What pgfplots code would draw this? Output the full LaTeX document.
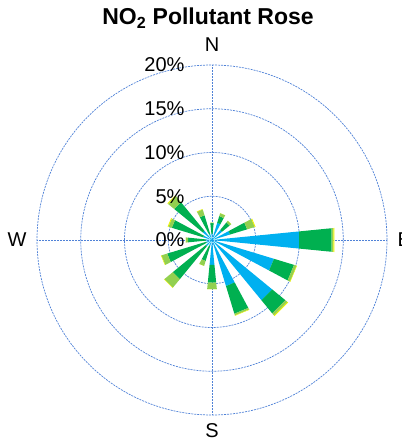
\documentclass[border=0pt]{standalone}
\usepackage{pgfplots}
\pgfplotsset{compat=1.18}
\usepackage{pgfplotstable}
\usepgfplotslibrary{polar}
\usepackage{fontspec}
\setmainfont{Liberation Sans}

\definecolor{roseblue}{RGB}{0,176,240}
\definecolor{rosegreen}{RGB}{0,176,80}
\definecolor{roselight}{RGB}{146,208,80}
\definecolor{roseyellow}{RGB}{235,240,0}
\definecolor{gridblue}{RGB}{80,130,215}

% cumulative frequency (%) per compass bearing, four concentration bins
\pgfplotstableread{
dir   c1    c2    c3    c4
0     0.70  1.95  2.00  2.00
22.5  2.05  2.85  3.20  3.20
45    1.50  2.60  2.85  2.85
67.5  2.15  4.20  5.10  5.20
90    10.00 13.75 13.95 14.05
112.5 7.40  9.80  10.10 10.15
135   8.90  10.85 11.15 11.25
157.5 5.50  8.80  9.00  9.05
180   2.85  4.90  5.65  5.65
202.5 0.70  2.50  3.10  3.10
225   0.90  5.80  7.05  7.10
247.5 0.70  5.35  6.05  6.10
270   0.70  2.75  3.00  3.00
292.5 1.05  4.80  5.20  5.30
315   1.35  5.60  6.50  6.60
337.5 0.70  2.95  3.65  3.70
}\rosedata

% one wedge piece: math angle, inner radius, outer radius, colour
\newcommand\roseseg[4]{%
  \pgfmathsetmacro\angA{#1-5.625}%
  \pgfmathsetmacro\angB{#1+5.625}%
  \addplot[draw=none,fill=#4] coordinates {(\angA,#2) (\angB,#2) (\angB,#3) (\angA,#3)} -- cycle;
}

\begin{document}
\begin{tikzpicture}
\begin{polaraxis}[
  scale only axis, width=350bp, height=350bp,
  ymin=0, ymax=20,
  xtick={0,90,180,270}, ytick={5,10,15,20},
  xticklabels={}, yticklabels={},
  major tick length=0pt,
  xmajorgrids, ymajorgrids,
  major grid style={draw=gridblue, line width=0.7bp, dash pattern=on 2bp off 1bp},
  axis line style={draw=none},
  clip=false,
]
\pgfplotsforeachungrouped \i in {0,...,15}{%
  \pgfplotstablegetelem{\i}{dir}\of\rosedata
  \pgfmathsetmacro\ang{90-\pgfplotsretval}%
  \pgfplotstablegetelem{\i}{c1}\of\rosedata \let\rA\pgfplotsretval
  \pgfplotstablegetelem{\i}{c2}\of\rosedata \let\rB\pgfplotsretval
  \pgfplotstablegetelem{\i}{c3}\of\rosedata \let\rC\pgfplotsretval
  \pgfplotstablegetelem{\i}{c4}\of\rosedata \let\rD\pgfplotsretval
  \roseseg{\ang}{0}{\rA}{roseblue}
  \roseseg{\ang}{\rA}{\rB}{rosegreen}
  \roseseg{\ang}{\rB}{\rC}{roselight}
  \roseseg{\ang}{\rC}{\rD}{roseyellow}
}
\coordinate (c) at (axis cs:0,0);
\begin{scope}[every node/.style={font=\fontsize{20bp}{24bp}\selectfont}]
\node[anchor=east, xshift=-24bp] at (axis cs:90,0) {0\%};
\node[anchor=east, xshift=-24bp] at (axis cs:90,5) {5\%};
\node[anchor=east, xshift=-24bp] at (axis cs:90,10) {10\%};
\node[anchor=east, xshift=-24bp] at (axis cs:90,15) {15\%};
\node[anchor=east, xshift=-24bp] at (axis cs:90,20) {20\%};
\node[yshift=20bp] at (axis cs:90,20) {N};
\node[anchor=west, xshift=7bp] at (axis cs:0,20) {E};
\node[yshift=-16bp] at (axis cs:270,20) {S};
\node[anchor=east, xshift=-7bp] at (axis cs:180,20) {W};
\end{scope}
\node[font=\fontsize{23bp}{27bp}\selectfont\bfseries, xshift=-4bp, yshift=47bp]
  at (axis cs:90,20) {NO\textsubscript{2} Pollutant Rose};
\end{polaraxis}
\pgfresetboundingbox
\path[use as bounding box] ([shift={(-212bp,-202bp)}]c) rectangle ([shift={(190bp,240bp)}]c);
\end{tikzpicture}
\end{document}
